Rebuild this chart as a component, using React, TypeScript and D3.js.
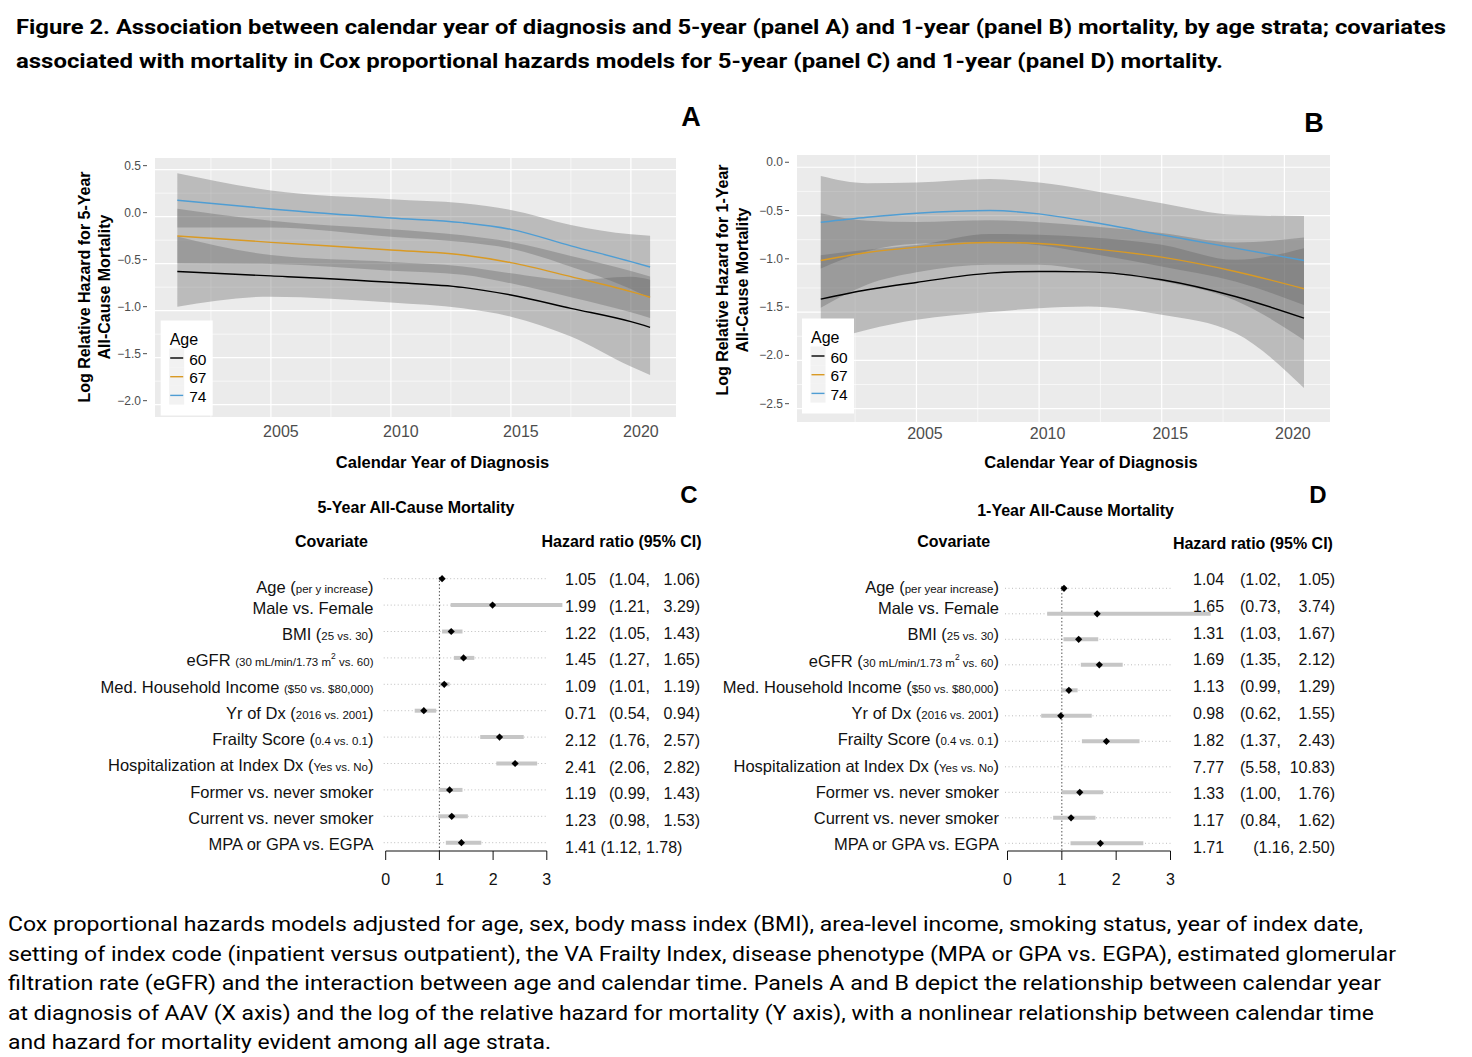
import React from "react";
import * as d3 from "d3";

// ---------------- DATA ----------------
const titleLines = [
  "Figure 2. Association between calendar year of diagnosis and 5-year (panel A) and 1-year (panel B) mortality, by age strata; covariates",
  "associated with mortality in Cox proportional hazards models for 5-year (panel C) and 1-year (panel D) mortality.",
];
const captionLines = [
  "Cox proportional hazards models adjusted for age, sex, body mass index (BMI), area-level income, smoking status, year of index date,",
  "setting of index code (inpatient versus outpatient), the VA Frailty Index, disease phenotype (MPA or GPA vs. EGPA), estimated glomerular",
  "filtration rate (eGFR) and the interaction between age and calendar time. Panels A and B depict the relationship between calendar year",
  "at diagnosis of AAV (X axis) and the log of the relative hazard for mortality (Y axis), with a nonlinear relationship between calendar time",
  "and hazard for mortality evident among all age strata.",
];

const ageGroups = ["60", "67", "74"];
const ageColors = ["#000000", "#D99A24", "#4F9DD3"];

// Panel A (5-year)
const yearsA = [2001.1, 2005, 2010, 2013, 2015, 2017.5, 2020, 2020.8];
const a60 = [-0.584, -0.63, -0.698, -0.752, -0.833, -0.975, -1.117, -1.177];
const a60lo = [-0.957, -0.851, -0.914, -0.975, -1.064, -1.276, -1.595, -1.684];
const a60hi = [-0.211, -0.409, -0.482, -0.529, -0.602, -0.674, -0.639, -0.67];
const a67 = [-0.205, -0.273, -0.354, -0.408, -0.489, -0.638, -0.797, -0.857];
const a67lo = [-0.495, -0.503, -0.574, -0.618, -0.709, -0.858, -1.017, -1.077];
const a67hi = [0.085, -0.043, -0.134, -0.198, -0.269, -0.418, -0.577, -0.637];
const a74 = [0.174, 0.082, -0.014, -0.064, -0.135, -0.31, -0.478, -0.535];
const a74lo = [-0.114, -0.114, -0.213, -0.27, -0.341, -0.532, -0.769, -0.868];
const a74hi = [0.462, 0.278, 0.185, 0.142, 0.071, -0.088, -0.187, -0.202];
const yTicksA = [0.5, 0, -0.5, -1, -1.5, -2];

// Panel B (1-year)
const yearsB = [2001.1, 2003, 2005, 2008, 2010, 2012, 2015, 2018, 2020.8];
const b60 = [-1.365, -1.269, -1.193, -1.096, -1.079, -1.083, -1.165, -1.338, -1.562];
const b60lo = [-1.82, -1.683, -1.58, -1.5, -1.459, -1.441, -1.528, -1.717, -2.286];
const b60hi = [-0.91, -0.855, -0.806, -0.69, -0.699, -0.725, -0.802, -0.959, -0.838];
const b67 = [-0.965, -0.883, -0.827, -0.779, -0.79, -0.838, -0.931, -1.079, -1.258];
const b67lo = [-1.455, -1.213, -1.087, -1.009, -1.01, -1.068, -1.181, -1.379, -1.788];
const b67hi = [-0.475, -0.553, -0.567, -0.549, -0.57, -0.608, -0.681, -0.779, -0.728];
const b74 = [-0.569, -0.517, -0.476, -0.448, -0.483, -0.562, -0.7, -0.838, -0.965];
const b74lo = [-1.048, -0.869, -0.793, -0.775, -0.807, -0.889, -1.027, -1.183, -1.426];
const b74hi = [-0.09, -0.165, -0.159, -0.121, -0.159, -0.235, -0.373, -0.493, -0.504];
const yTicksB = [0, -0.5, -1, -1.5, -2, -2.5];

const xTicks = [2005, 2010, 2015, 2020];
const forestTicks = [0, 1, 2, 3];

// Forest plot labels: [text, kind]  n=normal, s=small, p=superscript
type Seg = [string, string];
const labelsC: Seg[][] = [
  [["Age ", "n"], ["(", "n"], ["per y increase", "s"], [")", "n"]],
  [["Male vs. Female", "n"]],
  [["BMI ", "n"], ["(", "n"], ["25 vs. 30", "s"], [")", "n"]],
  [["eGFR ", "n"], ["(30 mL/min/1.73 m", "s"], ["2", "p"], [" vs. 60)", "s"]],
  [["Med. Household Income ", "n"], ["($50 vs. $80,000)", "s"]],
  [["Yr of Dx ", "n"], ["(", "n"], ["2016 vs. 2001", "s"], [")", "n"]],
  [["Frailty Score ", "n"], ["(", "n"], ["0.4 vs. 0.1", "s"], [")", "n"]],
  [["Hospitalization at Index Dx ", "n"], ["(", "n"], ["Yes vs. No", "s"], [")", "n"]],
  [["Former vs. never smoker", "n"]],
  [["Current vs. never smoker", "n"]],
  [["MPA or GPA vs. EGPA", "n"]],
];
const labelsD: Seg[][] = [
  [["Age ", "n"], ["(", "n"], ["per year increase", "s"], [")", "n"]],
  [["Male vs. Female", "n"]],
  [["BMI ", "n"], ["(", "n"], ["25 vs. 30", "s"], [")", "n"]],
  [["eGFR ", "n"], ["(", "n"], ["30 mL/min/1.73 m", "s"], ["2", "p"], [" vs. 60", "s"], [")", "n"]],
  [["Med. Household Income ", "n"], ["(", "n"], ["$50 vs. $80,000", "s"], [")", "n"]],
  [["Yr of Dx ", "n"], ["(", "n"], ["2016 vs. 2001", "s"], [")", "n"]],
  [["Frailty Score ", "n"], ["(", "n"], ["0.4 vs. 0.1", "s"], [")", "n"]],
  [["Hospitalization at Index Dx ", "n"], ["(", "n"], ["Yes vs. No", "s"], [")", "n"]],
  [["Former vs. never smoker", "n"]],
  [["Current vs. never smoker", "n"]],
  [["MPA or GPA vs. EGPA", "n"]],
];
const hrC = [1.05, 1.99, 1.22, 1.45, 1.09, 0.71, 2.12, 2.41, 1.19, 1.23, 1.41];
const loC = [1.04, 1.21, 1.05, 1.27, 1.01, 0.54, 1.76, 2.06, 0.99, 0.98, 1.12];
const hiC = [1.06, 3.29, 1.43, 1.65, 1.19, 0.94, 2.57, 2.82, 1.43, 1.53, 1.78];
const hrD = [1.04, 1.65, 1.31, 1.69, 1.13, 0.98, 1.82, 7.77, 1.33, 1.17, 1.71];
const loD = [1.02, 0.73, 1.03, 1.35, 0.99, 0.62, 1.37, 5.58, 1.0, 0.84, 1.16];
const hiD = [1.05, 3.74, 1.67, 2.12, 1.29, 1.55, 2.43, 10.83, 1.76, 1.62, 2.5];

// ---------------- STYLE ----------------
const FONT = "'Liberation Sans', Arial, Helvetica, sans-serif";
const DOC_FONT = "Roboto, 'Open Sans', sans-serif";
const fmtTick = (v: number) => (v < 0 ? "\u2212" : "") + Math.abs(v).toFixed(1);

type Series = { mid: number[]; lo: number[]; hi: number[] };

function SmoothPanel(props: {
  id: string;
  left: number; right: number; top: number; bottom: number;
  xDomain: [number, number]; yDomain: [number, number];
  years: number[]; series: Series[]; yTicks: number[];
  yLabX: number; yLabDy: number; xLabDx: number; xLabY: number;
  yTitle: [string, string]; yTitleX: [number, number]; yTitleCy: number;
  xTitleCx: number; xTitleY: number;
  legX: number; legY: number;
}) {
  const p = props;
  const x = d3.scaleLinear().domain(p.xDomain).range([p.left, p.right]);
  const y = d3.scaleLinear().domain(p.yDomain).range([p.bottom, p.top]);
  const majY = p.yTicks;
  const minY = majY.slice(1).map((v, i) => (v + majY[i]) / 2);
  const minX = xTicks.map((v) => v - 2.5).filter((v) => v > p.xDomain[0]);
  const area = (s: Series) =>
    d3
      .area<number>()
      .x((_, i) => x(p.years[i]))
      .y0((_, i) => y(s.lo[i]))
      .y1((_, i) => y(s.hi[i]))
      .curve(d3.curveMonotoneX)(p.years);
  const line = (s: Series) =>
    d3
      .line<number>()
      .x((_, i) => x(p.years[i]))
      .y((_, i) => y(s.mid[i]))
      .curve(d3.curveMonotoneX)(p.years);
  return (
    <g>
      <defs>
        <clipPath id={`clip-${p.id}`}>
          <rect x={p.left} y={p.top} width={p.right - p.left} height={p.bottom - p.top} />
        </clipPath>
      </defs>
      <rect x={p.left} y={p.top} width={p.right - p.left} height={p.bottom - p.top} fill="#EBEBEB" />
      {minY.map((v) => (
        <line key={"my" + v} x1={p.left} x2={p.right} y1={y(v)} y2={y(v)} stroke="#fff" strokeWidth={0.6} />
      ))}
      {minX.map((v) => (
        <line key={"mx" + v} y1={p.top} y2={p.bottom} x1={x(v)} x2={x(v)} stroke="#fff" strokeWidth={0.6} />
      ))}
      {majY.map((v) => (
        <line key={"Y" + v} x1={p.left} x2={p.right} y1={y(v)} y2={y(v)} stroke="#fff" strokeWidth={1.2} />
      ))}
      {xTicks.map((v) => (
        <line key={"X" + v} y1={p.top} y2={p.bottom} x1={x(v)} x2={x(v)} stroke="#fff" strokeWidth={1.2} />
      ))}
      <g clipPath={`url(#clip-${p.id})`}>
        {p.series.map((s, i) => (
          <path key={"band" + i} d={area(s) || ""} fill="#5f5f5f" fillOpacity={0.34} />
        ))}
        {p.series.map((s, i) => (
          <path key={"line" + i} d={line(s) || ""} fill="none" stroke={ageColors[i]} strokeWidth={1.4} />
        ))}
      </g>
      {/* y axis */}
      {majY.map((v) => (
        <g key={"yl" + v} transform={`translate(0,${y(v) + p.yLabDy})`}>
          <text x={p.yLabX} y={4} textAnchor="end" fontSize={12} fill="#4D4D4D" fontFamily={FONT}>
            {fmtTick(v)}
          </text>
          <line x1={p.yLabX + 2} x2={p.yLabX + 6} y1={0} y2={0} stroke="#4D4D4D" strokeWidth={1} />
        </g>
      ))}
      {xTicks.map((v) => (
        <text key={"xl" + v} x={x(v) + p.xLabDx} y={p.xLabY} textAnchor="middle" fontSize={16} fill="#4D4D4D" fontFamily={FONT}>
          {v}
        </text>
      ))}
      <text x={p.xTitleCx} y={p.xTitleY} textAnchor="middle" fontSize={16.5} fontWeight="bold" fontFamily={FONT}>
        Calendar Year of Diagnosis
      </text>
      {p.yTitle.map((t, i) => (
        <text
          key={"yt" + i}
          transform={`translate(${p.yTitleX[i]},${p.yTitleCy}) rotate(-90)`}
          textAnchor="middle"
          fontSize={16}
          fontWeight="bold"
          fontFamily={FONT}
        >
          {t}
        </text>
      ))}
      {/* legend */}
      <g transform={`translate(${p.legX},${p.legY})`}>
        <rect x={0} y={0} width={52} height={95} fill="#fff" />
        <text x={9} y={24.5} fontSize={16} fontFamily={FONT}>Age</text>
        {ageGroups.map((g, i) => (
          <g key={g} transform={`translate(0,${28 + i * 18.7})`}>
            <rect x={8.5} y={0} width={15} height={18.7} fill="#F2F2F2" />
            <line x1={9.5} x2={22.5} y1={9.5} y2={9.5} stroke={ageColors[i]} strokeWidth={1.4} />
            <text x={28.5} y={16} fontSize={15.5} fontFamily={FONT}>{g}</text>
          </g>
        ))}
      </g>
    </g>
  );
}

function Label({ segs, x, y }: { segs: Seg[]; x: number; y: number }) {
  let prevSup = false;
  return (
    <text x={x} y={y} textAnchor="end" fontSize={16.5} fontFamily={FONT} fill="#111" style={{ whiteSpace: "pre" }}>
      {segs.map(([t, k], j) => {
        const dy = k === "p" ? -7 : prevSup ? 7 : undefined;
        prevSup = k === "p";
        const fs = k === "s" ? 11.5 : k === "p" ? 8.5 : undefined;
        return (
          <tspan key={j} fontSize={fs} dy={dy}>
            {t}
          </tspan>
        );
      })}
    </text>
  );
}

function ForestPanel(p: {
  labels: Seg[][]; hr: number[]; lo: number[]; hi: number[];
  x0: number; x3: number; pointY: [number, number]; labelY: [number, number]; hrY: [number, number];
  labelRight: number; hrX: number; parenX: number; hiEnd: number; guideX: [number, number];
  vTop: number; axisY: number; lastMode: string; ageShift: number;
  title: string; titleX: number; titleY: number; covX: number; hrHeadX: number; headY: number; hrHeadY: number;
}) {
  const n = p.hr.length;
  const x = d3.scaleLinear().domain([0, 3]).range([p.x0, p.x3]);
  const yp = d3.scaleLinear().domain([0, n - 1]).range(p.pointY);
  const yl = d3.scaleLinear().domain([0, n - 1]).range(p.labelY);
  const yh = d3.scaleLinear().domain([0, n - 1]).range(p.hrY);
  const diamond = d3.symbol(d3.symbolSquare, 26)() || "";
  const f = (v: number) => v.toFixed(2);
  const maxShown = 4;
  return (
    <g fontFamily={FONT}>
      <text x={p.titleX} y={p.titleY} textAnchor="middle" fontSize={16} fontWeight="bold">{p.title}</text>
      <text x={p.covX} y={p.headY} textAnchor="middle" fontSize={16} fontWeight="bold">Covariate</text>
      <text x={p.hrHeadX} y={p.hrHeadY} textAnchor="middle" fontSize={16} fontWeight="bold">Hazard ratio (95% CI)</text>
      {p.hr.map((_, i) => (
        <line key={"g" + i} x1={p.guideX[0]} x2={p.guideX[1]} y1={yp(i)} y2={yp(i)} stroke="#BDBDBD" strokeWidth={1} strokeDasharray="1 2.5" />
      ))}
      <line x1={x(1)} x2={x(1)} y1={p.vTop} y2={p.axisY} stroke="#555" strokeWidth={1} strokeDasharray="1.5 2" />
      {p.hr.map((v, i) =>
        p.lo[i] < maxShown ? (
          <line key={"ci" + i} x1={x(p.lo[i])} x2={x(Math.min(p.hi[i], maxShown))} y1={yp(i)} y2={yp(i)} stroke="#C6C6C6" strokeWidth={4} />
        ) : null
      )}
      {p.hr.map((v, i) =>
        v < maxShown ? (
          <path key={"pt" + i} d={diamond} transform={`translate(${x(v)},${yp(i)}) rotate(45)`} fill="#000" />
        ) : null
      )}
      {p.labels.map((segs, i) => (
        <Label key={"l" + i} segs={segs} x={p.labelRight} y={yl(i) + 6 + (i === 0 ? p.ageShift : 0)} />
      ))}
      {p.hr.map((v, i) => {
        const yy = yh(i) + 6;
        const last = i === n - 1;
        if (last && p.lastMode === "compact") {
          return (
            <text key={"t" + i} x={p.hrX} y={yy} fontSize={16} fill="#111">
              {`${f(v)} (${f(p.lo[i])}, ${f(p.hi[i])})`}
            </text>
          );
        }
        if (last && p.lastMode === "paren") {
          return (
            <g key={"t" + i}>
              <text x={p.hrX} y={yy} fontSize={16} fill="#111">{f(v)}</text>
              <text x={p.hiEnd} y={yy} textAnchor="end" fontSize={16} fill="#111">{`(${f(p.lo[i])}, ${f(p.hi[i])})`}</text>
            </g>
          );
        }
        return (
          <g key={"t" + i}>
            <text x={p.hrX} y={yy} fontSize={16} fill="#111">{f(v)}</text>
            <text x={p.parenX} y={yy} fontSize={16} fill="#111">{`(${f(p.lo[i])},`}</text>
            <text x={p.hiEnd} y={yy} textAnchor="end" fontSize={16} fill="#111">{`${f(p.hi[i])})`}</text>
          </g>
        );
      })}
      <line x1={x(0)} x2={x(3)} y1={p.axisY} y2={p.axisY} stroke="#111" strokeWidth={1} />
      {forestTicks.map((t) => (
        <g key={"ft" + t}>
          <line x1={x(t)} x2={x(t)} y1={p.axisY} y2={p.axisY + 9} stroke="#111" strokeWidth={1} />
          <text x={x(t)} y={p.axisY + 34} textAnchor="middle" fontSize={16} fill="#111">{t}</text>
        </g>
      ))}
    </g>
  );
}

export default function App() {
  const seriesA: Series[] = [
    { mid: a60, lo: a60lo, hi: a60hi },
    { mid: a67, lo: a67lo, hi: a67hi },
    { mid: a74, lo: a74lo, hi: a74hi },
  ];
  const seriesB: Series[] = [
    { mid: b60, lo: b60lo, hi: b60hi },
    { mid: b67, lo: b67lo, hi: b67hi },
    { mid: b74, lo: b74lo, hi: b74hi },
  ];
  const titleLens = [1430, 1207];
  const capLens = [1355, 1388, 1373, 1366, 543];
  return (
    <svg
      width={1472}
      height={1057}
      viewBox="0 0 1472 1057"
      style={{ position: "absolute", left: 0, top: 0, background: "#fff" }}
    >
      <rect x={0} y={0} width={1472} height={1057} fill="#fff" />
      {titleLines.map((t, i) => (
        <text
          key={"ti" + i}
          x={16}
          y={34 + i * 33.5}
          fontSize={20}
          fontWeight="bold"
          fontFamily={DOC_FONT}
          textLength={titleLens[i]}
          lengthAdjust="spacingAndGlyphs"
        >
          {t}
        </text>
      ))}
      {captionLines.map((t, i) => (
        <text
          key={"c" + i}
          x={8}
          y={931 + i * 29.5}
          fontSize={20.5}
          fontFamily={DOC_FONT}
          textLength={capLens[i]}
          lengthAdjust="spacingAndGlyphs"
        >
          {t}
        </text>
      ))}
      {/* panel letters */}
      <text x={691} y={126} textAnchor="middle" fontSize={27} fontWeight="bold" fontFamily={FONT}>A</text>
      <text x={1314} y={132} textAnchor="middle" fontSize={27} fontWeight="bold" fontFamily={FONT}>B</text>
      <text x={689} y={503} textAnchor="middle" fontSize={24} fontWeight="bold" fontFamily={FONT}>C</text>
      <text x={1318} y={503} textAnchor="middle" fontSize={24} fontWeight="bold" fontFamily={FONT}>D</text>

      <SmoothPanel
        id="A"
        left={155} right={676} top={158} bottom={417}
        xDomain={[2000.17, 2021.88]} yDomain={[-2.131, 0.624]}
        years={yearsA} series={seriesA} yTicks={yTicksA}
        yLabX={141} yLabDy={-4} xLabDx={10} xLabY={437}
        yTitle={["Log Relative Hazard for 5-Year", "All-Cause Mortality"]}
        yTitleX={[90, 110]} yTitleCy={287}
        xTitleCx={442.5} xTitleY={468}
        legX={160.7} legY={320.5}
      />
      <SmoothPanel
        id="B"
        left={797} right={1330} top={155} bottom={422}
        xDomain={[2000.13, 2021.86]} yDomain={[-2.638, 0.127]}
        years={yearsB} series={seriesB} yTicks={yTicksB}
        yLabX={783} yLabDy={-5} xLabDx={8.5} xLabY={439}
        yTitle={["Log Relative Hazard for 1-Year", "All-Cause Mortality"]}
        yTitleX={[728, 748]} yTitleCy={280}
        xTitleCx={1091} xTitleY={468}
        legX={802} legY={318.5}
      />
      <ForestPanel
        labels={labelsC} hr={hrC} lo={loC} hi={hiC}
        x0={385.7} x3={546.8} pointY={[578.7, 842.7]} labelY={[581.5, 844.3]} hrY={[579, 847]}
        labelRight={373.5} hrX={565} parenX={609} hiEnd={700} guideX={[383.7, 546.8]}
        vTop={577} axisY={851} lastMode="compact" ageShift={5}
        title="5-Year All-Cause Mortality" titleX={416} titleY={513}
        covX={331.5} hrHeadX={621.5} headY={547} hrHeadY={547}
      />
      <ForestPanel
        labels={labelsD} hr={hrD} lo={loD} hi={hiD}
        x0={1007.5} x3={1170.5} pointY={[588.3, 843.3]} labelY={[581.75, 844.3]} hrY={[579, 847]}
        labelRight={999} hrX={1193} parenX={1240} hiEnd={1335} guideX={[1005, 1170.5]}
        vTop={586} axisY={851} lastMode="paren" ageShift={5}
        title="1-Year All-Cause Mortality" titleX={1075.6} titleY={516}
        covX={953.7} hrHeadX={1252.9} headY={547} hrHeadY={549}
      />
    </svg>
  );
}
